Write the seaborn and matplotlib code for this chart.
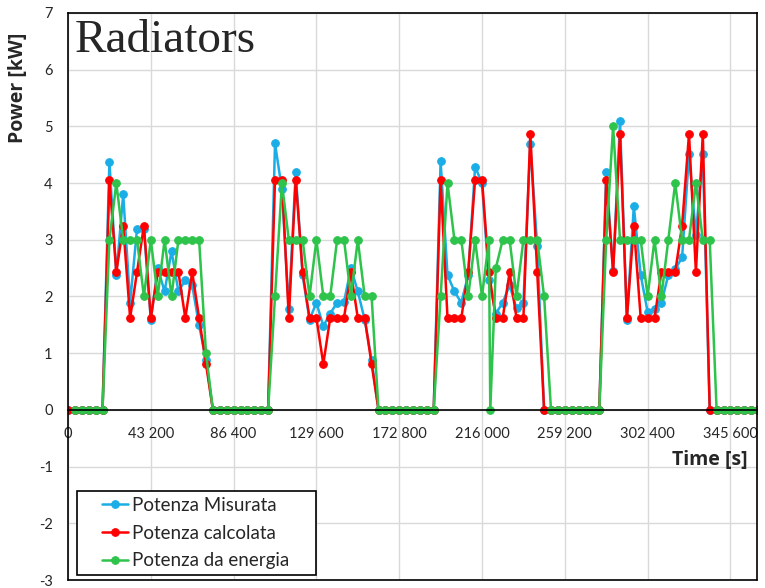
import numpy as np
import pandas as pd
import seaborn as sns
import matplotlib.pyplot as plt
import matplotlib.ticker as mtick
from matplotlib.lines import Line2D
from matplotlib.legend_handler import HandlerLine2D

# Hourly samples (hours 0..100), values in kW
hours = list(range(0, 101))

# active windows: values for hours 6-20, 30-44, 54-69, 78-93 (zero elsewhere)
misurata_on = {
    6: 4.38, 7: 2.38, 8: 3.80, 9: 1.89, 10: 3.19, 11: 3.19, 12: 1.59, 13: 2.50,
    14: 2.09, 15: 2.80, 16: 2.09, 17: 2.29, 18: 2.20, 19: 1.49, 20: 0.88,
    30: 4.70, 31: 3.89, 32: 1.78, 33: 4.19, 34: 2.38, 35: 1.59, 36: 1.89, 37: 1.48,
    38: 1.70, 39: 1.89, 40: 1.90, 41: 2.50, 42: 2.09, 43: 1.59, 44: 0.88,
    54: 4.39, 55: 2.38, 56: 2.09, 57: 1.89, 58: 2.38, 59: 4.29, 60: 4.00, 61: 2.29,
    62: 1.70, 63: 1.89, 64: 2.20, 65: 1.79, 66: 1.89, 67: 4.69, 68: 2.89,
    78: 4.19, 79: 2.45, 80: 5.09, 81: 1.59, 82: 3.59, 83: 2.38, 84: 1.73, 85: 1.78,
    86: 1.89, 87: 2.38, 88: 2.48, 89: 2.69, 90: 4.51, 91: 3.09, 92: 4.51,
}
calcolata_on = {
    6: 4.06, 7: 2.43, 8: 3.25, 9: 1.62, 10: 2.43, 11: 3.25, 12: 1.62, 13: 2.43,
    14: 2.43, 15: 2.43, 16: 2.43, 17: 1.62, 18: 2.43, 19: 1.62, 20: 0.81,
    30: 4.06, 31: 4.06, 32: 1.62, 33: 4.06, 34: 2.43, 35: 1.62, 36: 1.62, 37: 0.81,
    38: 1.62, 39: 1.62, 40: 1.62, 41: 2.43, 42: 1.62, 43: 1.62, 44: 0.81,
    54: 4.06, 55: 1.62, 56: 1.62, 57: 1.62, 58: 2.43, 59: 4.06, 60: 4.06, 61: 2.43,
    62: 1.62, 63: 1.62, 64: 2.43, 65: 1.62, 66: 1.62, 67: 4.87, 68: 2.43,
    78: 4.06, 79: 2.43, 80: 4.87, 81: 1.62, 82: 3.25, 83: 1.62, 84: 1.62, 85: 1.62,
    86: 2.43, 87: 2.43, 88: 2.43, 89: 3.25, 90: 4.87, 91: 2.43, 92: 4.87,
}
energia_on = {
    6: 3, 7: 4, 8: 3, 9: 3, 10: 3, 11: 2, 12: 3, 13: 2, 14: 3, 15: 2, 16: 3,
    17: 3, 18: 3, 19: 3, 20: 1,
    30: 2, 31: 4, 32: 3, 33: 3, 34: 3, 35: 2, 36: 3, 37: 2, 38: 2, 39: 3, 40: 3,
    41: 2, 42: 3, 43: 2, 44: 2,
    54: 2, 55: 4, 56: 3, 57: 3, 58: 2, 59: 3, 60: 2, 61: 3, 62: 2.5, 63: 3, 64: 3,
    65: 2, 66: 3, 67: 3, 68: 3, 69: 2,
    78: 3, 79: 5, 80: 3, 81: 3, 82: 3, 83: 3, 84: 2, 85: 3, 86: 2, 87: 3, 88: 4,
    89: 3, 90: 3, 91: 4, 92: 3, 93: 3,
}
# the energy series starts at hour 1 and has one extra zero sample near hour 61.2
energia_hours = list(range(1, 101)) + [61.2]

misurata = [misurata_on.get(h, 0.0) for h in hours]
calcolata = [calcolata_on.get(h, 0.0) for h in hours]
energia = [energia_on.get(h, 0.0) for h in energia_hours]

df_m = pd.DataFrame({"t": np.array(hours) * 3600, "P": misurata})
df_c = pd.DataFrame({"t": np.array(hours) * 3600, "P": calcolata})
df_e = pd.DataFrame({"t": np.array(energia_hours) * 3600, "P": energia}).sort_values("t")

sns.set_style("white")
plt.rcParams['font.family'] = ['Lato', 'DejaVu Sans']
plt.rcParams['axes.unicode_minus'] = False

fig = plt.figure(figsize=(7.65, 5.88), dpi=100)
ax = fig.add_axes([0.0889, 0.0136, 0.9007, 0.9643])

line_kw = dict(marker='o', markersize=5.5, linewidth=1.8, ax=ax, sort=False)
sns.lineplot(data=df_m, x="t", y="P", color="#1AADE6", mec="#1AADE6",
             label="Potenza Misurata", **line_kw)
sns.lineplot(data=df_c, x="t", y="P", color="#FF0000", mec="#FF0000",
             label="Potenza calcolata", **line_kw)
sns.lineplot(data=df_e, x="t", y="P", color="#2EC34B", mec="#2EC34B",
             label="Potenza da energia", **line_kw)

ax.set_xlim(0, 359500)
ax.set_ylim(-3, 7)
ax.set_xticks(np.arange(0, 345601, 43200))
ax.set_yticks(range(-3, 8))
ax.xaxis.set_major_formatter(mtick.FuncFormatter(lambda v, p: f"{int(v):,}".replace(",", " ")))
ax.grid(True, color="#D9D9D9", linewidth=1)
ax.set_axisbelow(True)

# x axis crosses at zero, keep a full box around the plot
ax.spines['bottom'].set_position(('data', 0))
for s in ax.spines.values():
    s.set_color('black')
    s.set_linewidth(1.2)
ax.plot([0, 1], [0, 0], transform=ax.transAxes, color='black', lw=1.2, clip_on=False)

ax.tick_params(axis='x', length=0, pad=12, labelsize=10.5)
ax.tick_params(axis='y', length=0, pad=11, labelsize=10.5)

ax.set_xlabel("")
ax.set_ylabel("Power [kW]", fontsize=14, fontweight='bold', family='Open Sans')
ax.yaxis.set_label_coords(-0.058, 0.868)
ax.text(0.932, 0.212, "Time [s]", transform=ax.transAxes, fontsize=14,
        fontweight='bold', family='Open Sans', ha='center', va='center')

ax.text(0.01, 0.932, "Radiators", transform=ax.transAxes, fontsize=34,
        family='Liberation Serif', ha='left', va='baseline')

leg = ax.legend(loc='lower left', bbox_to_anchor=(0.0126, 0.0088, 0.348, 0.15),
                mode='expand', borderaxespad=0, fontsize=13.5, frameon=True,
                fancybox=False, edgecolor='black', framealpha=1,
                handlelength=2.45, handletextpad=0.22, labelspacing=0.58,
                borderpad=0.3, handler_map={Line2D: HandlerLine2D(xpad=1.07)})
leg.get_frame().set_linewidth(1.2)

fig.savefig("out.png", dpi=100)
